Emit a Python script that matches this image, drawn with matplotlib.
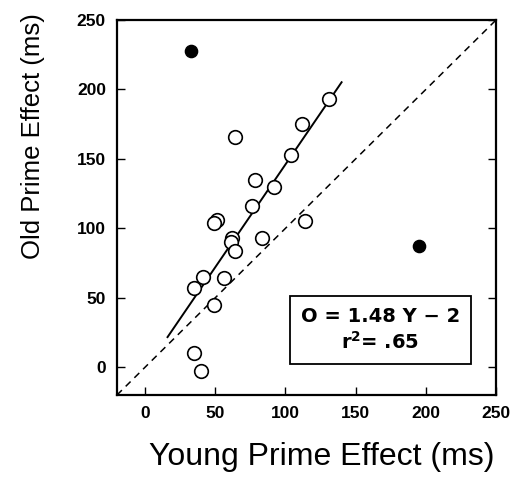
import matplotlib
matplotlib.use("Agg")
import matplotlib.pyplot as plt
import numpy as np

# young vs old prime effects (ms)
young = [131, 112, 64, 104, 78, 92, 76, 51, 49, 114, 62, 61, 83, 64, 41, 35, 56, 49, 35, 40]
old = [193, 175, 166, 153, 135, 130, 116, 106, 104, 105, 93, 90, 93, 84, 65, 57, 64, 45, 10, -3]

# outliers (filled)
young_out = [33, 195]
old_out = [228, 87]

# regression O = 1.48 Y - 2
slope = 1.48
intercept = -2
fit_range = [16, 140]

ticks = [0, 50, 100, 150, 200, 250]

plt.rcParams['font.family'] = ['Liberation Sans', 'DejaVu Sans']

fig = plt.figure(figsize=(5.17, 4.79), dpi=100)
ax = fig.add_axes([0.2263, 0.1754, 0.7331, 0.7828])

# identity line
ax.axline((0, 0), slope=1, color='black', lw=1.1, ls=(0, (4.5, 3.5)))

# regression line
fx = np.array(fit_range)
ax.plot(fx, slope * fx + intercept, color='black', lw=1.4)

ax.plot(young, old, 'o', mfc='white', mec='black', ms=9.8, mew=1.2, ls='none')
ax.plot(young_out, old_out, 'o', color='black', ms=8.8, ls='none')

ax.set_xlim(-20, 250)
ax.set_ylim(-20, 250)
ax.set_xticks(ticks)
ax.set_yticks(ticks)
ax.tick_params(direction='in', length=6, width=1.0, right=True, labelsize=12.5, pad=8)
for lab in ax.get_xticklabels() + ax.get_yticklabels():
    lab.set_fontweight('bold')
for s in ax.spines.values():
    s.set_linewidth(1.6)

ax.set_xlabel('Young Prime Effect (ms)', fontsize=23)
ax.xaxis.set_label_coords(0.541, -0.1245)
ax.set_ylabel('Old Prime Effect (ms)', fontsize=18.5)
ax.yaxis.set_label_coords(-0.19, 0.69)

ax.text(167.6, 26.8, 'O = 1.48 Y \u2212 2\n$\\mathbf{r^2}$= .65', ha='center', va='center',
        fontsize=14, fontweight='bold', family='DejaVu Sans', linespacing=1.3,
        bbox=dict(boxstyle='square,pad=0.55', fc='white', ec='black', lw=1.3))

plt.savefig('out.png', dpi=100)
